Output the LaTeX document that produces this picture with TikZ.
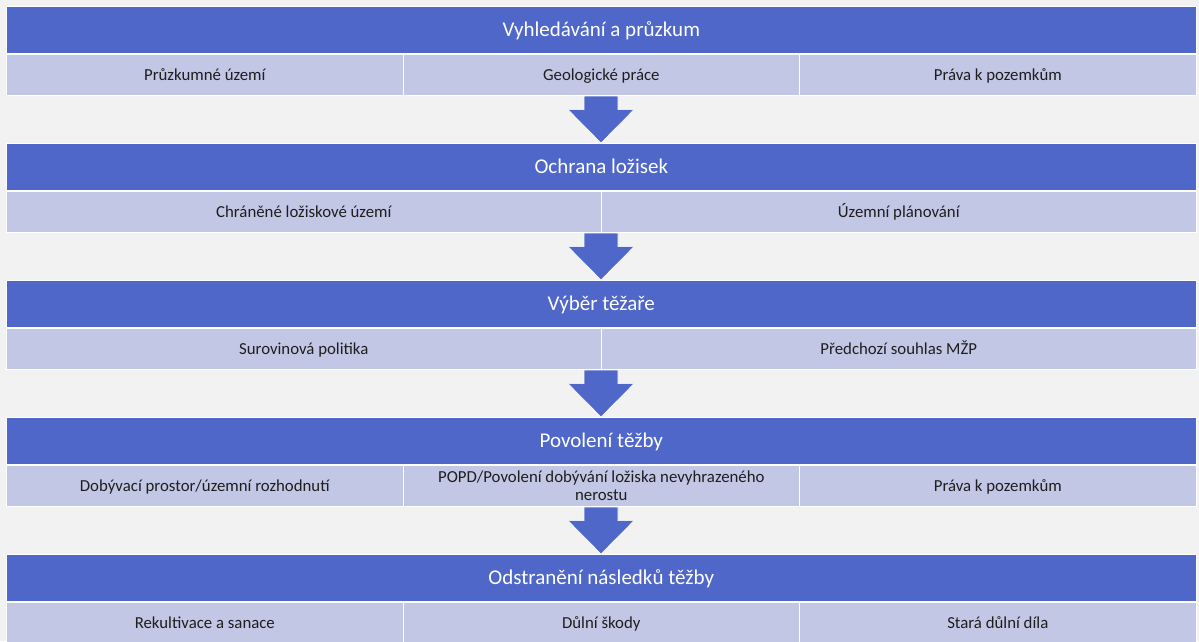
\documentclass[tikz,border=0pt]{standalone}
\usepackage{fontspec}
\setmainfont{Carlito}
\usetikzlibrary{calc}
\definecolor{bg}{HTML}{F2F2F2}
\definecolor{hdr}{HTML}{4F67C8}
\definecolor{sub}{HTML}{C3C7E6}
\definecolor{txt}{HTML}{1E1E1E}
\tikzset{
  hdrbox/.style={draw=white, line width=0.6pt, fill=hdr, text=white, anchor=north west,
    minimum width=1190pt, minimum height=47pt, inner sep=0pt, text height=18pt, text depth=4pt,
    font=\fontsize{21}{25}\selectfont},
  subbox/.style={draw=white, line width=0.6pt, fill=sub, text=txt, anchor=north west,
    minimum height=41pt, inner sep=0pt, align=center, text height=14pt, text depth=3pt,
    font=\fontsize{16.8}{18.5}\selectfont},
  twoline/.style={text height=, text depth=},
  downarrow/.style={fill=hdr, draw=white, line width=0.6pt, line join=miter}
}
\begin{document}
\begin{tikzpicture}[x=1pt,y=-1pt]
\fill[bg] (0,0) rectangle (1199,641);
\useasboundingbox (0,0) rectangle (1199,641);
% row 1
\node[hdrbox] (h1) at (6,6) {Vyhledávání a průzkum};
\node[subbox, minimum width=397pt] (s1a) at (6,54) {Průzkumné území};
\node[subbox, minimum width=396pt] (s1b) at (403,54) {Geologické práce};
\node[subbox, minimum width=397pt] (s1c) at (799,54) {Práva k pozemkům};
% row 2
\node[hdrbox] (h2) at (6,143) {Ochrana ložisek};
\node[subbox, minimum width=595pt] (s2a) at (6,191) {Chráněné ložiskové území};
\node[subbox, minimum width=595pt] (s2b) at (601,191) {Územní plánování};
% row 3
\node[hdrbox] (h3) at (6,280) {Výběr těžaře};
\node[subbox, minimum width=595pt] (s3a) at (6,328) {Surovinová politika};
\node[subbox, minimum width=595pt] (s3b) at (601,328) {Předchozí souhlas MŽP};
% row 4
\node[hdrbox] (h4) at (6,417) {Povolení těžby};
\node[subbox, minimum width=397pt] (s4a) at (6,465) {Dobývací prostor/územní rozhodnutí};
\node[subbox, twoline, minimum width=396pt] (s4b) at (403,465) {POPD/Povolení dobývání ložiska nevyhrazeného\\nerostu};
\node[subbox, minimum width=397pt] (s4c) at (799,465) {Práva k pozemkům};
% row 5
\node[hdrbox] (h5) at (6,554) {Odstranění následků těžby};
\node[subbox, minimum width=397pt] (s5a) at (6,602) {Rekultivace a sanace};
\node[subbox, minimum width=396pt] (s5b) at (403,602) {Důlní škody};
\node[subbox, minimum width=397pt] (s5c) at (799,602) {Stará důlní díla};
% arrows
\foreach \a/\b in {s1b/h2, s2a/h3, s3a/h4, s4c/h5}{
  \coordinate (top) at (601,0 |- \a.south);
  \coordinate (tip) at (601,0 |- \b.north);
  \draw[downarrow] ($(top)+(-17,0.5)$) -- ($(top)+(17,0.5)$) -- ($(top)+(17,14)$) -- ($(top)+(33,14)$)
    -- (tip) -- ($(top)+(-33,14)$) -- ($(top)+(-17,14)$) -- cycle;
}
\end{tikzpicture}
\end{document}
